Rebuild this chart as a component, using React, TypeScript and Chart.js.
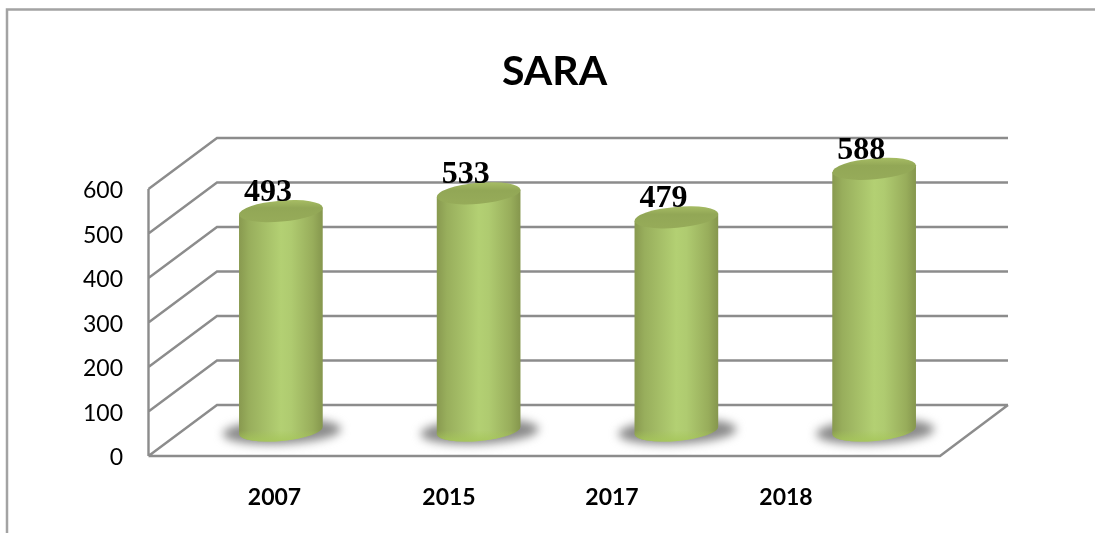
import React, { useEffect, useRef } from "react";
import Chart from "chart.js/auto";

const titleText = "SARA";
const categories = ["2007", "2015", "2017", "2018"];
const values = [493, 533, 479, 588];
const tickValues = [0, 100, 200, 300, 400, 500, 600];

// Style: percentage positions of the category labels along the floor edge (they sit off the bars in the source)
const labelAnchors = [15.87, 37.93, 58.53, 80.53];

const DEPTH_X = 68;
const DEPTH_Y = 51;
const ROT = (-5 * Math.PI) / 180;
const GRID = "#8c8c8c";

const pseudo3d = {
  id: "pseudo3d",
  beforeDraw(chart: any) {
    const { ctx, width, height } = chart;
    ctx.save();
    ctx.fillStyle = "#ffffff";
    ctx.fillRect(0, 0, width, height);
    ctx.strokeStyle = "#a3a3a3";
    ctx.lineWidth = 2.5;
    ctx.beginPath();
    ctx.moveTo(7, height);
    ctx.lineTo(7, 9.5);
    ctx.lineTo(width, 9.5);
    ctx.stroke();
    ctx.restore();
  },
  beforeDatasetsDraw(chart: any) {
    const { ctx, chartArea, scales } = chart;
    const { left, right, top, bottom } = chartArea;
    ctx.save();
    ctx.strokeStyle = GRID;
    ctx.lineWidth = 2.4;
    ctx.lineJoin = "miter";
    ctx.beginPath();
    ctx.moveTo(left - 0.5, top);
    ctx.lineTo(left - 0.5, bottom);
    for (const t of tickValues) {
      const y = scales.y.getPixelForValue(t);
      ctx.moveTo(left - 0.5, y);
      ctx.lineTo(left + DEPTH_X, y - DEPTH_Y);
      ctx.lineTo(right + DEPTH_X, y - DEPTH_Y);
    }
    ctx.moveTo(left - 0.5, bottom);
    ctx.lineTo(right, bottom);
    ctx.lineTo(right + DEPTH_X, bottom - DEPTH_Y);
    ctx.stroke();
    ctx.restore();
  },
  beforeDatasetDraw(chart: any, args: any) {
    const { ctx, scales } = chart;
    const meta = args.meta;
    const base = scales.y.getPixelForValue(0) - DEPTH_Y / 2;
    meta.data.forEach((bar: any) => {
      const cx = bar.x + DEPTH_X / 2 - 1;
      const yTop = bar.y - DEPTH_Y / 2;
      const rx = bar.width / 2;
      const ry = 10.5;
      const dx = rx * Math.cos(ROT);
      const dy = rx * Math.sin(ROT);

      // floor shadow
      ctx.save();
      ctx.filter = "blur(5px)";
      ctx.fillStyle = "#8a8a8a";
      ctx.beginPath();
      ctx.ellipse(cx + 1, base + 1, rx + 17, ry + 2, ROT / 2, 0, Math.PI * 2);
      ctx.fill();
      ctx.restore();

      // body
      const g = ctx.createLinearGradient(cx - rx, 0, cx + rx, 0);
      g.addColorStop(0, "#88994f");
      g.addColorStop(0.12, "#98ae5c");
      g.addColorStop(0.5, "#b3d073");
      g.addColorStop(0.62, "#afcb70");
      g.addColorStop(0.88, "#98ad5b");
      g.addColorStop(1, "#85964d");
      ctx.save();
      ctx.fillStyle = g;
      ctx.beginPath();
      ctx.moveTo(cx + dx, yTop + dy);
      ctx.lineTo(cx + dx, base + dy);
      ctx.ellipse(cx, base, rx, ry, ROT, 0, Math.PI);
      ctx.lineTo(cx - dx, yTop - dy);
      ctx.closePath();
      ctx.fill();

      // brighter rim at the foot
      ctx.clip();
      const foot = ctx.createLinearGradient(0, base, 0, base + ry + 2);
      foot.addColorStop(0, "rgba(166,198,90,0)");
      foot.addColorStop(1, "rgba(166,198,90,1)");
      ctx.fillStyle = foot;
      ctx.fillRect(cx - rx - 2, base, rx * 2 + 4, ry + 6);
      ctx.restore();

      // top cap
      const capG = ctx.createLinearGradient(0, yTop - ry, 0, yTop + ry);
      capG.addColorStop(0, "#a5bb63");
      capG.addColorStop(0.35, "#92a756");
      capG.addColorStop(1, "#96ab59");
      ctx.fillStyle = capG;
      ctx.beginPath();
      ctx.ellipse(cx, yTop, rx, ry, ROT, 0, Math.PI * 2);
      ctx.fill();
    });
    return false;
  },
  afterDatasetsDraw(chart: any) {
    const { ctx } = chart;
    const meta = chart.getDatasetMeta(0);
    ctx.save();
    ctx.font = 'bold 32px "Liberation Serif"';
    ctx.fillStyle = "#000000";
    ctx.textAlign = "center";
    ctx.textBaseline = "alphabetic";
    meta.data.forEach((bar: any, i: number) => {
      const cx = bar.x + DEPTH_X / 2 - 1;
      const yTop = bar.y - DEPTH_Y / 2;
      ctx.fillText(String(values[i]), cx - 13, yTop - 10);
    });
    ctx.restore();
  },
};

export default function App() {
  const ref = useRef<HTMLCanvasElement>(null);
  useEffect(() => {
    if (!ref.current) return;
    const chart = new Chart(ref.current, {
      type: "bar",
      data: {
        labels: categories,
        datasets: [{ label: titleText, data: values, backgroundColor: "#b3d073", barThickness: 84, yAxisID: "y", xAxisID: "x" }],
      },
      plugins: [pseudo3d],
      options: {
        responsive: false,
        maintainAspectRatio: false,
        animation: false,
        layout: { padding: { left: 14, right: 0, top: 0, bottom: 0 } },
        plugins: {
          legend: { display: false },
          tooltip: { enabled: false },
          title: {
            display: true,
            text: titleText,
            color: "#000000",
            font: { family: "Lato", size: 41, weight: "bold", lineHeight: 1.2 },
            padding: { top: 47.6, bottom: 92.2 },
          },
        },
        scales: {
          x: { type: "category", display: false, position: "bottom" },
          x2: {
            type: "linear",
            position: "bottom",
            offset: false,
            min: 0,
            max: 100,
            grid: { display: false, drawTicks: false },
            border: { display: false },
            afterBuildTicks: (s: any) => {
              s.ticks = labelAnchors.map((value) => ({ value }));
            },
            afterFit: (s: any) => {
              s.height = 77;
            },
            ticks: {
              autoSkip: false,
              maxRotation: 0,
              padding: 28,
              color: "#000000",
              font: { family: "Lato", size: 23, weight: "bold" },
              callback: (_v: any, i: number) => categories[i],
            },
          },
          y: {
            type: "linear",
            position: "left",
            min: 0,
            max: 600,
            grid: { display: false, drawTicks: false },
            border: { display: false },
            afterFit: (s: any) => {
              s.width = 135;
            },
            ticks: {
              stepSize: 100,
              padding: 26,
              labelOffset: 2,
              color: "#000000",
              font: { family: "Lato", size: 23 },
            },
          },
          y2: {
            type: "linear",
            position: "right",
            min: 0,
            max: 600,
            grid: { display: false, drawTicks: false },
            border: { display: false },
            ticks: { display: false },
            afterFit: (s: any) => {
              s.width = 155;
            },
          },
        },
      } as any,
    });
    return () => chart.destroy();
  }, []);
  return (
    <div style={{ position: "fixed", left: 0, top: 0, width: 1095, height: 533 }}>
      <canvas ref={ref} width={1095} height={533} style={{ display: "block" }} />
    </div>
  );
}
